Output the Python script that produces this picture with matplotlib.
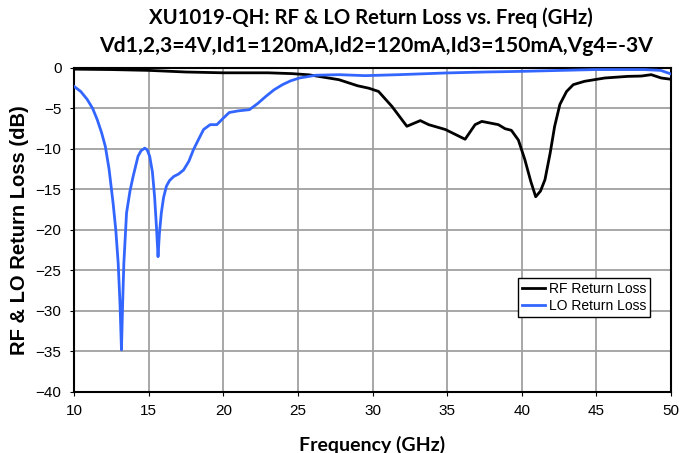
import matplotlib.pyplot as plt
import numpy as np

# RF return loss (black)
rf_freq = [10, 12.5, 15, 17.5, 20, 23, 24.6, 25.75, 27.75, 29.0, 29.75, 30.4,
           31.3, 32.3, 33.2, 33.76, 34.88, 36.2, 36.87, 37.32, 38.43, 38.88, 39.3, 39.77,
           40.2, 40.6, 40.93, 41.25, 41.55, 41.9, 42.2, 42.55, 43.0, 43.45, 44.2, 45.56,
           47.1, 48.0, 48.67, 49.34, 50]
rf_loss = [-0.15, -0.2, -0.3, -0.5, -0.6, -0.6, -0.7, -0.85, -1.45, -2.2, -2.5, -2.9,
           -4.75, -7.2, -6.5, -7.0, -7.6, -8.8, -7.0, -6.6, -7.0, -7.5, -7.7, -8.9,
           -11.3, -14.0, -15.9, -15.2, -13.8, -10.5, -7.2, -4.5, -2.9, -2.06, -1.65, -1.24,
           -1.04, -1.0, -0.83, -1.24, -1.4]

# LO return loss (blue)
lo_freq = [10, 10.45, 10.89, 11.25, 11.56, 11.85, 12.1, 12.35, 12.62, 12.8, 12.96, 13.08,
           13.18, 13.26, 13.34, 13.52, 13.75, 13.96, 14.29, 14.5, 14.74, 14.9, 15.07, 15.25,
           15.4, 15.52, 15.63, 15.72, 15.85, 16.0, 16.19, 16.4, 16.68, 17.0, 17.34, 17.7,
           18.0, 18.35, 18.68, 19.12, 19.57, 20.0, 20.4, 21.0, 21.75, 22.3, 22.86, 23.4,
           23.97, 24.5, 25.1, 26.2, 27.75, 29.5, 31.76, 34.9, 37.5, 40, 44.9, 48.2, 49.3, 50]
lo_loss = [-2.27, -2.9, -3.9, -5.0, -6.4, -8.0, -9.7, -12.5, -16.7, -20.0, -24.1, -29.0,
           -34.8, -29.0, -24.1, -17.9, -15.2, -13.4, -10.9, -10.2, -9.9, -10.1, -10.9, -12.8,
           -15.9, -19.5, -23.3, -20.5, -17.9, -16.0, -14.6, -13.9, -13.4, -13.1, -12.6, -11.5,
           -10.1, -8.8, -7.6, -7.0, -7.0, -6.2, -5.5, -5.3, -5.15, -4.4, -3.5, -2.7,
           -2.06, -1.6, -1.24, -0.9, -0.83, -0.95, -0.83, -0.62, -0.5, -0.42, -0.2, -0.2, -0.3, -0.75]

x_ticks = np.arange(10, 51, 5)
y_ticks = np.arange(-40, 1, 5)

plt.rcParams['font.family'] = ['Liberation Sans', 'DejaVu Sans']

fig = plt.figure(figsize=(6.82, 4.53), dpi=100)
ax = fig.add_axes([0.1085, 0.1347, 0.8755, 0.7153])

ax.plot(rf_freq, rf_loss, color='black', lw=2, label='RF Return Loss', zorder=3)
ax.plot(lo_freq, lo_loss, color='#3366ff', lw=2, label='LO Return Loss', zorder=3)

ax.set_xlim(10, 50)
ax.set_ylim(-40, 0)
ax.set_xticks(x_ticks)
ax.set_yticks(y_ticks)
ax.grid(True, color='#a0a0a0', lw=1.3)
ax.tick_params(direction='out', length=3, labelsize=11, pad=6)
for s in ax.spines.values():
    s.set_linewidth(1.5)

ax.set_ylabel('RF & LO Return Loss (dB)', fontsize=14.5, fontweight='bold', labelpad=5)
fig.text(372 / 682, 1 - 436 / 453, 'Frequency (GHz)', ha='center', va='top',
         fontsize=14, fontweight='bold', family='Lato')
fig.text(371 / 682, 1 - 18 / 453, 'XU1019-QH: RF & LO Return Loss vs. Freq (GHz)', ha='center',
         va='center', fontsize=14.6, fontweight='bold', family='Lato')
fig.text(376 / 682, 1 - 46 / 453, 'Vd1,2,3=4V,Id1=120mA,Id2=120mA,Id3=150mA,Vg4=-3V', ha='center',
         va='center', fontsize=15.2, fontweight='bold', family='Lato')

leg = ax.legend(loc='lower right', bbox_to_anchor=(0.977, 0.21), fontsize=10, fancybox=False,
                framealpha=1, edgecolor='black', handlelength=1.6, handletextpad=0.3,
                borderpad=0.3, labelspacing=0.2)
leg.get_frame().set_linewidth(1)

fig.savefig('out.png', dpi=100)
